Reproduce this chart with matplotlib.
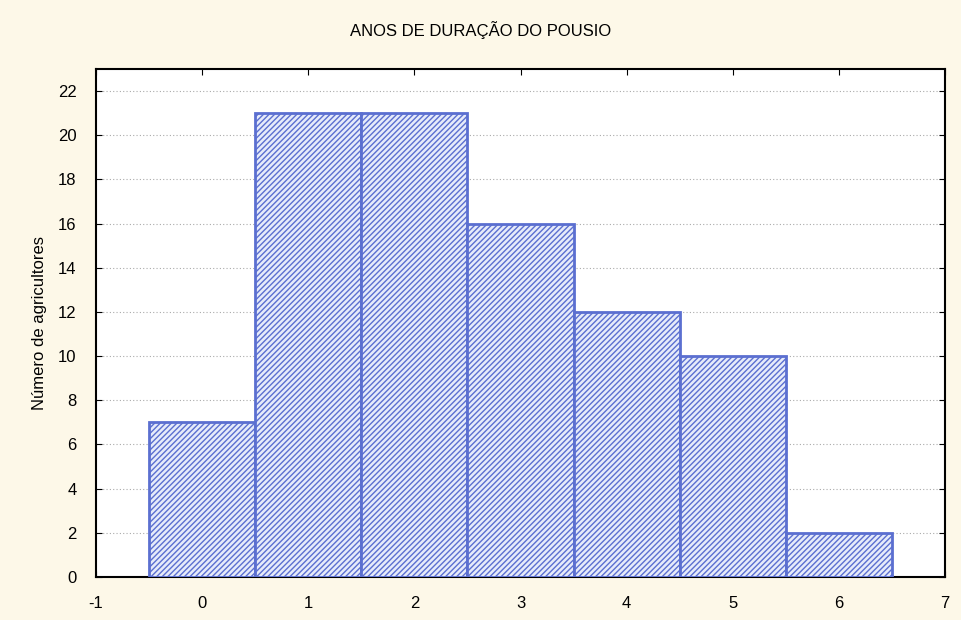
import matplotlib
matplotlib.use("Agg")
import matplotlib.pyplot as plt

# years of fallow -> number of farmers
anos = [0, 1, 2, 3, 4, 5, 6]
agricultores = [7, 21, 21, 16, 12, 10, 2]
xticks = [-1, 0, 1, 2, 3, 4, 5, 6, 7]
yticks = list(range(0, 23, 2))

BG = "#fdf8e8"
BLUE = "#5b6fd0"

plt.rcParams['font.family'] = ['Liberation Sans', 'DejaVu Sans']
plt.rcParams['hatch.linewidth'] = 1.0
plt.rcParams['axes.unicode_minus'] = False

fig = plt.figure(figsize=(9.61, 6.2), dpi=100, facecolor=BG)
ax = fig.add_axes([0.0999, 0.0694, 0.8835, 0.8193])
ax.bar(anos, agricultores, width=1.0, facecolor="#e6ebfa", edgecolor=BLUE,
       hatch="//////", linewidth=2.0, zorder=3)
ax.set_xlim(-1, 7)
ax.set_ylim(0, 23)
ax.set_xticks(xticks)
ax.set_yticks(yticks)
ax.yaxis.grid(True, ls=(0, (1, 2)), color="#aaaaaa", lw=0.8, zorder=0)
ax.tick_params(direction='in', top=True, right=True, length=4, labelsize=12)
ax.tick_params(axis='x', pad=14)
ax.tick_params(axis='y', pad=14)
for s in ax.spines.values():
    s.set_linewidth(1.5)
ax.set_ylabel("Número de agricultores", fontsize=12, labelpad=8)
fig.text(0.5, 0.952, "ANOS DE DURAÇÃO DO POUSIO", ha='center', va='center', fontsize=12)
fig.savefig("out.png", dpi=100, facecolor=BG)
